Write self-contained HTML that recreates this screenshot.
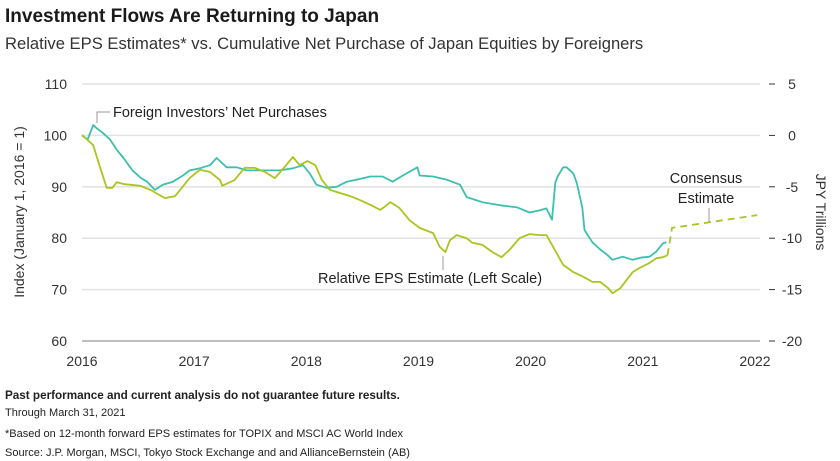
<!DOCTYPE html>
<html><head><meta charset="utf-8"><style>
body{margin:0;background:#fff;font-family:"Liberation Sans",sans-serif;color:#222}
#wrap{position:relative;width:840px;height:461px;overflow:hidden}
.t{position:absolute;white-space:nowrap}
</style></head><body>
<div id="wrap">
<div class="t" style="left:5px;top:6px;font-size:19px;font-weight:bold;color:#1a1a1a">Investment Flows Are Returning to Japan</div>
<div class="t" style="left:5px;top:34px;font-size:16.6px;color:#333">Relative EPS Estimates* vs. Cumulative Net Purchase of Japan Equities by Foreigners</div>
<svg id="chart" width="840" height="390" style="position:absolute;left:0;top:0"></svg>
<div class="t" style="left:5px;top:389px;font-size:11.7px;font-weight:bold">Past performance and current analysis do not guarantee future results.</div>
<div class="t" style="left:5px;top:407px;font-size:11px">Through March 31, 2021</div>
<div class="t" style="left:5px;top:428px;font-size:11px">*Based on 12-month forward EPS estimates for TOPIX and MSCI AC World Index</div>
<div class="t" style="left:5px;top:447px;font-size:11px">Source: J.P. Morgan, MSCI, Tokyo Stock Exchange and and AllianceBernstein (AB)</div>
</div>
<script>
const xYears=[2016,2017,2018,2019,2020,2021,2022];
const leftTicks=[110,100,90,80,70,60];
const rightTicks=[5,0,-5,-10,-15,-20];
const epsDates=[2016.00,2016.10,2016.16,2016.22,2016.27,2016.31,2016.38,2016.52,2016.61,2016.74,2016.83,2016.96,2017.05,2017.14,2017.23,2017.25,2017.36,2017.45,2017.54,2017.63,2017.72,2017.82,2017.88,2017.94,2018.01,2018.08,2018.14,2018.21,2018.30,2018.39,2018.48,2018.57,2018.66,2018.75,2018.83,2018.92,2019.01,2019.13,2019.19,2019.24,2019.28,2019.34,2019.43,2019.48,2019.57,2019.66,2019.74,2019.81,2019.90,2019.99,2020.08,2020.14,2020.19,2020.29,2020.38,2020.47,2020.55,2020.62,2020.69,2020.73,2020.80,2020.91,2020.97,2021.06,2021.12,2021.18,2021.22];
const epsValues=[100.1,98.1,93.9,89.8,89.8,90.9,90.5,90.2,89.4,87.8,88.2,91.7,93.3,92.9,91.3,90.2,91.3,93.7,93.7,92.9,91.7,94.2,95.8,94.2,95.0,94.2,91.3,89.4,88.8,88.2,87.4,86.5,85.5,87.0,85.9,83.5,82.0,81.0,78.3,77.3,79.6,80.6,80.0,79.1,78.7,77.3,76.3,77.7,80.0,80.8,80.6,80.6,78.7,74.8,73.4,72.5,71.5,71.5,70.3,69.3,70.3,73.4,74.2,75.2,76.1,76.3,76.7];
const consDates=[2021.22,2021.26,2022.02];
const consValues=[76.7,82.0,84.5];
const flowDates=[2016.00,2016.05,2016.10,2016.13,2016.19,2016.25,2016.31,2016.37,2016.45,2016.52,2016.58,2016.65,2016.72,2016.81,2016.90,2016.96,2017.05,2017.14,2017.20,2017.29,2017.38,2017.47,2017.56,2017.65,2017.76,2017.88,2017.97,2018.03,2018.09,2018.18,2018.27,2018.36,2018.45,2018.57,2018.68,2018.77,2018.86,2018.99,2019.01,2019.13,2019.25,2019.37,2019.43,2019.57,2019.73,2019.88,2019.99,2020.08,2020.14,2020.19,2020.22,2020.24,2020.29,2020.32,2020.38,2020.41,2020.46,2020.48,2020.55,2020.62,2020.68,2020.73,2020.82,2020.91,2020.98,2021.06,2021.12,2021.18,2021.21];
const flowValues=[0.0,-0.4,1.0,0.7,0.2,-0.4,-1.4,-2.2,-3.4,-4.1,-4.5,-5.3,-4.8,-4.5,-3.9,-3.4,-3.2,-2.9,-2.2,-3.1,-3.1,-3.4,-3.4,-3.4,-3.4,-3.2,-2.9,-3.7,-4.8,-5.1,-5.0,-4.5,-4.3,-4.0,-4.0,-4.5,-3.9,-3.1,-3.9,-4.0,-4.3,-4.8,-6.0,-6.5,-6.8,-7.0,-7.5,-7.3,-7.1,-8.2,-4.6,-4.0,-3.1,-3.1,-3.7,-4.6,-7.0,-9.2,-10.4,-11.1,-11.6,-12.1,-11.8,-12.1,-11.9,-11.8,-11.3,-10.5,-10.4];

const X0=82,X1=755,YT=84,YB=341;
const xs=t=>X0+(t-2016)/6*(X1-X0);
const yL=v=>YT+(110-v)/50*(YB-YT);
const yR=v=>YT+(5-v)/25*(YB-YT);
const svg=document.getElementById('chart');
const NS='http://www.w3.org/2000/svg';
function mk(tag,attrs){const e=document.createElementNS(NS,tag);for(const k in attrs)e.setAttribute(k,attrs[k]);svg.appendChild(e);return e;}

leftTicks.forEach((v,i)=>{
  const y=yL(v);
  const g=mk('line',{x1:X0,x2:760,y1:y,y2:y,stroke:v===60?'#999':'#e2e2e2','stroke-width':v===60?1.2:1.5});
  
  
  const t=mk('text',{x:67,y:y+5,'text-anchor':'end','font-size':14,fill:'#333'});
  t.textContent=v;
  
  
});
rightTicks.forEach(v=>{
  const y=yR(v);
  const d=mk('line',{x1:769,x2:775,y1:y,y2:y,stroke:'#333','stroke-width':1});
  
  
  const t=mk('text',{x:792,y:y+5,'text-anchor':'middle','font-size':14,fill:'#333'});
  t.textContent=v;
  
  
});
xYears.forEach(yr=>{
  const t=mk('text',{x:xs(yr),y:366,'text-anchor':'middle','font-size':14,fill:'#333'});
  t.textContent=yr;
  
  
});
let lt=mk('text',{transform:'translate(24,212) rotate(-90)','text-anchor':'middle','font-size':14,fill:'#333'});
lt.textContent='Index (January 1, 2016 = 1)';


let rt=mk('text',{transform:'translate(816,212) rotate(90)','text-anchor':'middle','font-size':14,fill:'#333'});
rt.textContent='JPY Trillions';



function path(d,v,yf){return d.map((t,i)=>(i?'L':'M')+xs(t).toFixed(1)+','+yf(v[i]).toFixed(1)).join(' ');}
const fl=mk('path',{d:path(flowDates,flowValues,yR),fill:'none',stroke:'#3dbfad','stroke-width':1.8,'stroke-linejoin':'round'});


const ep=mk('path',{d:path(epsDates,epsValues,yL),fill:'none',stroke:'#a9c51f','stroke-width':1.8,'stroke-linejoin':'round'});


const cs=mk('path',{d:path(consDates,consValues,yL),fill:'none',stroke:'#a9c51f','stroke-width':1.8,'stroke-dasharray':'7,5'});



const l1=mk('polyline',{points:'97,123 97,112 110,112',fill:'none',stroke:'#999','stroke-width':1});


let a1=mk('text',{x:113,y:117,'font-size':14.5,fill:'#222'});a1.textContent='Foreign Investors\u2019 Net Purchases';


const l2=mk('line',{x1:443,x2:443,y1:256,y2:270,stroke:'#bbb','stroke-width':1.5});


let a2=mk('text',{x:318,y:283,'font-size':14.5,fill:'#222'});a2.textContent='Relative EPS Estimate (Left Scale)';


const l3=mk('line',{x1:709,x2:709,y1:208,y2:222,stroke:'#999','stroke-width':1});


let a3=mk('text',{x:706,y:183,'text-anchor':'middle','font-size':14.5,fill:'#222'});a3.textContent='Consensus';


let a4=mk('text',{x:706,y:203,'text-anchor':'middle','font-size':14.5,fill:'#222'});a4.textContent='Estimate';


</script>
</body></html>
